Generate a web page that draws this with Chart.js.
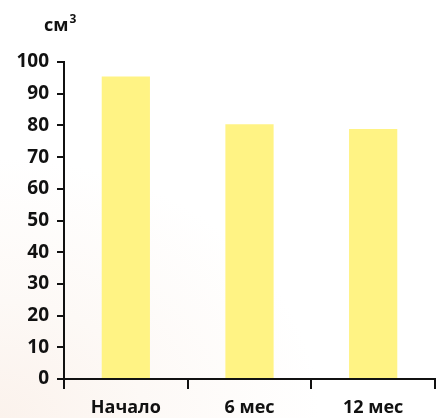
<!DOCTYPE html>
<html>
<head>
<meta charset="utf-8">
<script src="https://cdn.jsdelivr.net/npm/chart.js@4"></script>
<style>
  html, body { margin: 0; padding: 0; }
  body {
    width: 439px; height: 418px;
    background: radial-gradient(ellipse 320px 260px at 0% 100%, #fbf2ec 0%, #fdf9f6 45%, #ffffff 100%);
  }
  #wrap { position: relative; width: 439px; height: 418px; }
</style>
</head>
<body>
<div id="wrap"><canvas id="c" width="439" height="418"></canvas></div>
<script>
// Volume at baseline, 6 and 12 months (cm³)
const categories = ['Начало', '6 мес', '12 мес'];
const volumes = [95.4, 80.4, 78.9];
const yTicks = [0, 10, 20, 30, 40, 50, 60, 70, 80, 90, 100];
const unitLabel = 'см';
const unitPower = '3';

const FONT = '"Open Sans", "DejaVu Sans", sans-serif';

// Unit caption above the value axis
const unitCaption = {
  id: 'unitCaption',
  afterDraw(chart) {
    const ctx = chart.ctx;
    const y = chart.scales.y;
    ctx.save();
    ctx.fillStyle = '#111';
    ctx.textBaseline = 'alphabetic';
    ctx.textAlign = 'left';
    ctx.font = '700 18px ' + FONT;
    const x0 = y.left + 44;
    const base = y.top - 31;
    ctx.fillText(unitLabel, x0, base);
    const w = ctx.measureText(unitLabel).width;
    ctx.font = '700 12px ' + FONT;
    ctx.fillText(unitPower, x0 + w + 1, base - 8);
    ctx.restore();
  }
};

new Chart(document.getElementById('c'), {
  type: 'bar',
  data: {
    labels: categories,
    datasets: [{
      data: volumes,
      backgroundColor: '#fff384',
      borderWidth: 0,
      categoryPercentage: 1,
      barPercentage: 0.39
    }]
  },
  options: {
    responsive: false,
    animation: false,
    layout: { padding: { top: 62, right: 4, left: 0, bottom: 0 } },
    plugins: { legend: { display: false }, tooltip: { enabled: false }, title: { display: false } },
    scales: {
      x: {
        grid: { drawOnChartArea: false, drawTicks: true, tickLength: 10, color: '#111', lineWidth: 2, offset: true },
        border: { display: true, color: '#111', width: 2 },
        ticks: { color: '#111', font: { family: FONT, size: 18, weight: '700' }, padding: 8, maxRotation: 0 },
        afterFit(s) { s.height = 39; }
      },
      y: {
        min: 0, max: 100,
        afterBuildTicks(s) { s.ticks = yTicks.map(v => ({ value: v })); },
        grid: { drawOnChartArea: false, drawTicks: true, tickLength: 7, color: '#111', lineWidth: 2 },
        border: { display: true, color: '#111', width: 2 },
        ticks: { color: '#111', font: { family: FONT, size: 19, weight: '700' }, padding: 8 },
        afterFit(s) { s.width = 64; }
      }
    }
  },
  plugins: [unitCaption]
});
</script>
</body>
</html>
